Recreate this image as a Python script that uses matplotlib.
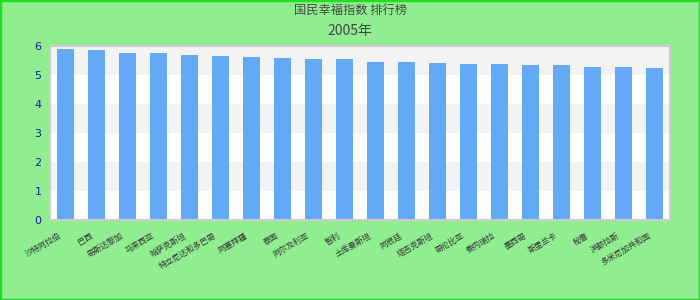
import matplotlib
matplotlib.use("Agg")
import matplotlib.pyplot as plt
from matplotlib.patches import Rectangle
from matplotlib.transforms import ScaledTranslation

plt.rcParams['font.family'] = ['Noto Sans CJK SC', 'DejaVu Sans']

title = "国民幸福指数 排行榜"
subtitle = "2005年"
categories = ["沙特阿拉伯", "巴西", "哥斯达黎加", "马来西亚", "哈萨克斯坦",
              "特立尼达和多巴哥", "阿塞拜疆", "泰国", "阿尔及利亚", "智利",
              "土库曼斯坦", "阿根廷", "塔吉克斯坦", "哥伦比亚", "委内瑞拉",
              "墨西哥", "斯里兰卡", "秘鲁", "洪都拉斯", "多米尼加共和国"]
values = [5.90, 5.86, 5.76, 5.76, 5.69, 5.66, 5.62, 5.59, 5.55, 5.55,
          5.45, 5.45, 5.41, 5.38, 5.38, 5.34, 5.34, 5.28, 5.28, 5.24]
yticks = [0, 1, 2, 3, 4, 5, 6]

fig = plt.figure(figsize=(7, 3), dpi=100, facecolor='#90ee90')
ax = fig.add_axes([50/700, 80/300, 620/700, 174/300])
ax.set_facecolor('white')

# alternating bands
for i in range(len(yticks) - 1):
    if i % 2 == 1:
        ax.axhspan(yticks[i], yticks[i+1], color='#f3f3f3', zorder=0, lw=0)

x = list(range(len(categories)))
ax.bar(x, values, width=0.55, color='#63a9f5', zorder=2)
ax.set_xlim(-0.5, len(categories) - 0.5)
ax.set_ylim(0, 6)
ax.set_yticks(yticks)
ax.set_yticklabels([str(t) for t in yticks], color='#1a1a9c', fontsize=8, family='DejaVu Sans')
ax.tick_params(axis='y', length=0, pad=6)
ax.tick_params(axis='x', length=0, pad=0)
ax.set_xticks(x)
ax.set_xticklabels(categories, rotation=30, ha='right', va='top', rotation_mode='anchor',
                   fontsize=5.8, color='#333333')
off = ScaledTranslation(-7/100, -11/100, fig.dpi_scale_trans)
for lab in ax.get_xticklabels():
    lab.set_transform(lab.get_transform() + off)
for s in ax.spines.values():
    s.set_color('#cccccc')
    s.set_linewidth(1.5)

fig.text(0.5, 1 - 10/300, title, ha='center', va='center', fontsize=8.8, color='#464646')
fig.text(0.5, 1 - 31/300, subtitle, ha='center', va='center', fontsize=10, color='#464646')

fig.patches.append(Rectangle((0, 0), 1, 1, transform=fig.transFigure, fill=False,
                             edgecolor='#22dd22', linewidth=2.5))

fig.savefig('out.png', dpi=100, facecolor=fig.get_facecolor())
